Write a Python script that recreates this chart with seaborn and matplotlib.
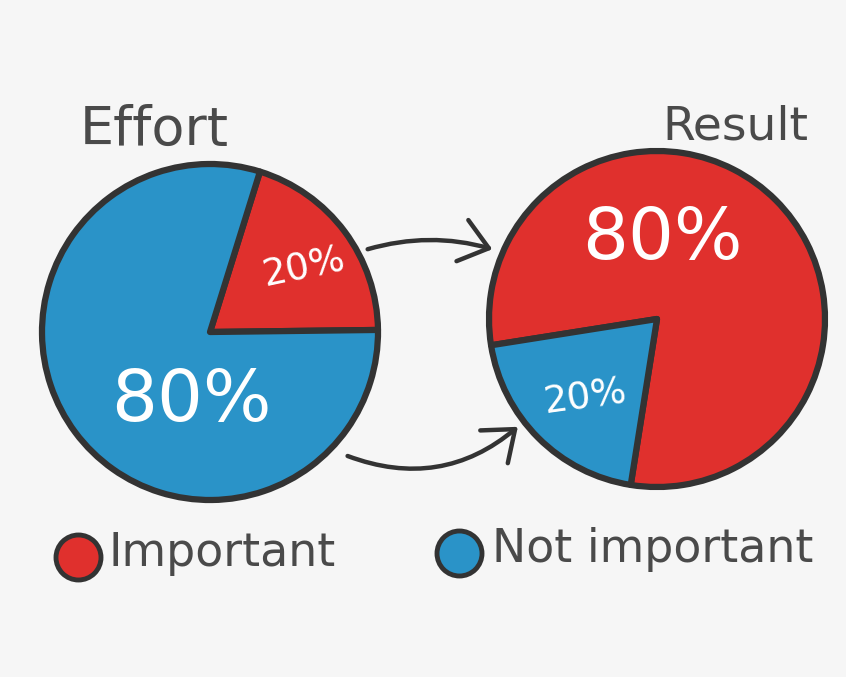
import matplotlib
matplotlib.use("Agg")
import matplotlib.pyplot as plt
import seaborn as sns
from matplotlib.patches import FancyArrowPatch

# ---- data ----
categories = ["Important", "Not important"]
effort_values = [20, 80]     # Effort: Important 20%, Not important 80%
result_values = [80, 20]     # Result: Important 80%, Not important 20%
effort_labels = ["20%", "80%"]
result_labels = ["80%", "20%"]
titles = ["Effort", "Result"]

sns.set_theme(style="white")
plt.rcParams["font.family"] = ["DejaVu Sans"]

palette = sns.color_palette(["#E0302D", "#2A93C8"])
red, blue = palette[0], palette[1]
dark = "#333333"
txt = "#4a4a4a"

W, H = 846, 677
fig = plt.figure(figsize=(W / 100, H / 100), dpi=100)
fig.patch.set_facecolor("#F6F6F6")
ax = fig.add_axes([0, 0, 1, 1])

def Y(y):
    return H - y

R = 168
# Effort pie
ax.pie(effort_values, colors=[red, blue], startangle=0.7, counterclock=True,
       center=(210, Y(332)), radius=R,
       wedgeprops=dict(edgecolor=dark, linewidth=4.5, joinstyle="round"))
# Result pie
ax.pie(result_values, colors=[red, blue], startangle=261, counterclock=True,
       center=(657, Y(319)), radius=R,
       wedgeprops=dict(edgecolor=dark, linewidth=4.5, joinstyle="round"))
ax.set_xlim(0, W)
ax.set_ylim(0, H)
ax.set_aspect("equal")
ax.axis("off")

# Titles
ax.text(154, Y(130), titles[0], ha="center", va="center", fontsize=39, color=txt)
ax.text(735, Y(127), titles[1], ha="center", va="center", fontsize=34, color=txt)

# Wedge labels
ax.text(304, Y(268), effort_labels[0], ha="center", va="center", fontsize=27,
        color="white", rotation=12)
ax.text(191, Y(402), effort_labels[1], ha="center", va="center", fontsize=52,
        color="white")
ax.text(662, Y(240), result_labels[0], ha="center", va="center", fontsize=52,
        color="white")
ax.text(585, Y(398), result_labels[1], ha="center", va="center", fontsize=27,
        color="white", rotation=8)

# Arrows
a1 = FancyArrowPatch((365, Y(250)), (495, Y(250)), connectionstyle="arc3,rad=-0.15",
                     arrowstyle="->,head_length=0.9,head_width=0.7", mutation_scale=22,
                     color=dark, lw=3.2)
a2 = FancyArrowPatch((345, Y(455)), (520, Y(425)), connectionstyle="arc3,rad=0.3",
                     arrowstyle="->,head_length=0.9,head_width=0.7", mutation_scale=22,
                     color=dark, lw=3.2)
ax.add_patch(a1)
ax.add_patch(a2)

# Legend
ax.scatter([78], [Y(557)], s=1050, color=red, edgecolor=dark, linewidth=3.5, zorder=5)
ax.scatter([459], [Y(553)], s=1050, color=blue, edgecolor=dark, linewidth=3.5, zorder=5)
ax.text(108, Y(553), categories[0], ha="left", va="center", fontsize=33, color=txt)
ax.text(492, Y(549), categories[1], ha="left", va="center", fontsize=33, color=txt)

fig.savefig("out.png", dpi=100, facecolor=fig.get_facecolor())
